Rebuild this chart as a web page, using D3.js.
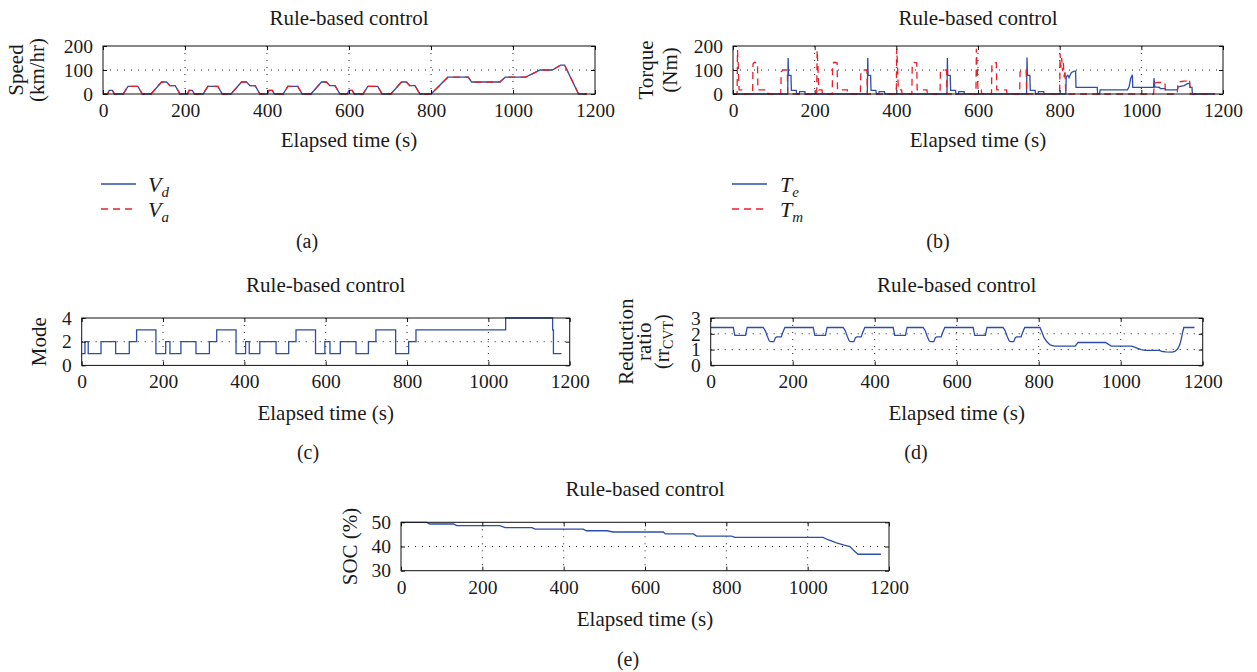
<!DOCTYPE html>
<html>
<head>
<meta charset="utf-8">
<script src="https://cdn.jsdelivr.net/npm/d3@7/dist/d3.min.js"></script>
<style>
  body { margin: 0; background: #fff; }
  svg text { font-family: "Liberation Serif", "Times New Roman", serif; fill: #1a1a1a; }
</style>
</head>
<body>
<div id="chart"></div>
<script>
// ---- data ----
const timeTicks = [0, 200, 400, 600, 800, 1000, 1200];

// (a) vehicle speed, km/hr
const speedTime = [0, 11, 15, 23, 28, 49, 61, 85, 96, 117, 143, 155, 163, 176, 188,
  195, 206, 210, 218, 223, 244, 256, 280, 291, 312, 338, 350, 358, 371, 383,
  390, 401, 405, 413, 418, 439, 451, 475, 486, 507, 533, 545, 553, 566, 578,
  585, 596, 600, 608, 613, 634, 646, 670, 681, 702, 728, 740, 748, 761, 773,
  780, 800, 841, 891, 899, 968, 981, 1031, 1066, 1096, 1116, 1126, 1160, 1180];
const speedDemand = [0, 0, 15, 15, 0, 0, 32, 32, 0, 0, 50, 50, 35, 35, 0,
  0, 0, 15, 15, 0, 0, 32, 32, 0, 0, 50, 50, 35, 35, 0,
  0, 0, 15, 15, 0, 0, 32, 32, 0, 0, 50, 50, 35, 35, 0,
  0, 0, 15, 15, 0, 0, 32, 32, 0, 0, 50, 50, 35, 35, 0,
  0, 0, 70, 70, 50, 50, 70, 70, 100, 100, 120, 120, 0, 0];
const speedActual = [0, 0, 15, 15, 0, 0, 32, 32, 0, 0, 50, 50, 35, 35, 0,
  0, 0, 15, 15, 0, 0, 32, 32, 0, 0, 50, 50, 35, 35, 0,
  0, 0, 15, 15, 0, 0, 32, 32, 0, 0, 50, 50, 35, 35, 0,
  0, 0, 15, 15, 0, 0, 32, 32, 0, 0, 50, 50, 35, 35, 0,
  0, 0, 70, 70, 50, 50, 70, 70, 100, 100, 120, 120, 0, 0];

// (b) torque, Nm  [time, value]
const engineTorque = [[0,0],[134,0],[135,150],[136,78],[142,78],[143,15],[155,15],[156,0],[162,0],[163,10],[176,10],[177,0],
  [329,0],[330,150],[331,78],[337,78],[338,15],[350,15],[351,0],[357,0],[358,10],[371,10],[372,0],
  [524,0],[525,150],[526,78],[532,78],[533,15],[545,15],[546,0],[552,0],[553,10],[566,10],[567,0],
  [719,0],[720,152],[721,78],[727,78],[728,15],[740,15],[741,0],[747,0],[748,10],[761,10],[762,0],
  [815,0],[816,72],[820,78],[823,68],[826,80],[829,90],[836,95],[839,95],[840,28],[892,28],[893,0],[898,0],[899,17],
  [966,17],[970,30],[974,65],[978,80],[979,28],[1030,28],[1031,66],[1033,30],[1045,28],[1046,22],[1058,22],[1059,17],
  [1088,17],[1090,30],[1105,35],[1112,42],[1118,45],[1119,28],[1124,28],[1125,0],[1180,0]];
const motorTorque = [[0,0],[10,0],[11,183],[12,150],[13,120],[14,60],[15,17],[23,17],[24,0],[48,0],[49,125],[52,132],[60,130],[61,17],[85,17],[86,0],[117,0],[118,92],[122,100],[133,100],[134,0],
  [205,0],[206,183],[207,150],[208,120],[209,60],[210,17],[218,17],[219,0],[243,0],[244,125],[247,132],[255,130],[256,17],[280,17],[281,0],[312,0],[313,92],[317,100],[328,100],[329,0],
  [400,0],[401,188],[402,150],[403,120],[404,60],[405,17],[413,17],[414,0],[438,0],[439,125],[442,132],[450,130],[451,17],[475,17],[476,0],[507,0],[508,92],[512,100],[523,100],[524,0],
  [595,0],[596,188],[597,150],[598,120],[599,60],[600,17],[608,17],[609,0],[633,0],[634,125],[637,132],[645,130],[646,17],[670,17],[671,0],[702,0],[703,92],[707,100],[718,100],[719,0],
  [800,0],[801,170],[803,110],[805,150],[807,95],[809,130],[811,70],[813,100],[815,0],
  [1030,0],[1032,45],[1040,48],[1058,48],[1059,0],[1088,0],[1090,50],[1110,55],[1118,62],[1120,0],[1180,0]];

// (c) operating mode (step)
const modeTime = [0, 8, 16, 47.5, 83.5, 117, 135, 182.5, 206.5, 217, 244, 281, 314, 332, 379.5,
  403, 412, 438, 478, 509, 527, 575, 598, 610.5, 636, 674.5, 705, 723.5, 772, 804, 822, 1042.5, 1158, 1160, 1180];
const modeValue = [1, 2, 1, 2, 1, 2, 3, 1, 2, 1, 2, 1, 2, 3, 1,
  2, 1, 2, 1, 2, 3, 1, 2, 1, 2, 1, 2, 3, 1, 2, 3, 4, 3, 1, 1];

// (d) CVT reduction ratio
const ratioTime = [0, 55, 59, 85, 89, 128, 133, 138, 143, 146, 154, 158, 161, 172, 176, 181,
  250, 254, 280, 284, 323, 328, 333, 338, 341, 349, 353, 356, 367, 371, 376,
  445, 449, 475, 479, 518, 523, 528, 533, 536, 544, 548, 551, 562, 566, 571,
  640, 644, 670, 674, 713, 718, 723, 728, 731, 739, 743, 746, 757, 761, 766,
  803, 808, 813, 820, 828, 838, 889, 896, 963, 977, 1027, 1040, 1050, 1059, 1094, 1102, 1110, 1126,
  1133, 1139, 1144, 1148, 1151, 1154, 1180];
const ratioValue = [2.4, 2.4, 1.9, 1.9, 2.4, 2.4, 2.2, 1.85, 1.55, 1.5, 1.5, 1.75, 1.8, 1.8, 2.1, 2.4,
  2.4, 1.9, 1.9, 2.4, 2.4, 2.2, 1.85, 1.55, 1.5, 1.5, 1.75, 1.8, 1.8, 2.1, 2.4,
  2.4, 1.9, 1.9, 2.4, 2.4, 2.2, 1.85, 1.55, 1.5, 1.5, 1.75, 1.8, 1.8, 2.1, 2.4,
  2.4, 1.9, 1.9, 2.4, 2.4, 2.2, 1.85, 1.55, 1.5, 1.5, 1.75, 1.8, 1.8, 2.1, 2.4,
  2.4, 2.1, 1.75, 1.5, 1.3, 1.22, 1.22, 1.45, 1.45, 1.22, 1.22, 1.1, 1.0, 0.95, 0.95, 0.88, 0.85, 0.84,
  0.9, 1.05, 1.3, 1.7, 2.1, 2.4, 2.4];

// (e) battery state of charge, %
const socTime = [0, 63, 71, 129, 137, 243, 256, 322, 330, 448, 456, 506, 522, 645, 650, 719, 727, 813, 821,
  1038, 1050, 1071, 1090, 1104, 1114, 1124, 1180];
const socValue = [50, 50, 49.3, 49.3, 48.6, 48.6, 47.8, 47.8, 47.2, 47.2, 46.5, 46.5, 46, 46, 45.2, 45.2, 44.3, 44.3, 43.8,
  43.8, 42.8, 41.5, 40.6, 40, 38.2, 36.8, 36.8];

// ---- drawing ----
const blue = '#2d4ea8';
const red = '#ec1f28';

const svg = d3.select('#chart').append('svg')
  .attr('width', 1257)
  .attr('height', 672)
  .style('background', '#fff');

function zip(t, v) { return t.map((d, i) => [d, v[i]]); }

function drawPanel(cfg) {
  const x = d3.scaleLinear().domain([0, 1200]).range([0, cfg.width]);
  const y = d3.scaleLinear().domain(cfg.yDomain).range([cfg.height, 0]);
  const g = svg.append('g').attr('transform', `translate(${cfg.left},${cfg.top})`);

  // dotted grid
  g.append('g').selectAll('line')
    .data(timeTicks.slice(1, -1))
    .join('line')
    .attr('x1', d => x(d)).attr('x2', d => x(d))
    .attr('y1', 0).attr('y2', cfg.height)
    .attr('stroke', '#222').attr('stroke-dasharray', '1,6');
  g.append('g').selectAll('line')
    .data(cfg.yTicks.slice(1, -1))
    .join('line')
    .attr('y1', d => y(d)).attr('y2', d => y(d))
    .attr('x1', 0).attr('x2', cfg.width)
    .attr('stroke', '#222').attr('stroke-dasharray', '1,6');

  // series
  cfg.series.forEach(s => {
    g.append('path')
      .datum(s.data)
      .attr('fill', 'none')
      .attr('stroke', s.color)
      .attr('stroke-width', 1.3)
      .attr('stroke-dasharray', s.dash || null)
      .attr('d', d3.line().x(d => x(d[0])).y(d => y(d[1])).curve(s.curve || d3.curveLinear));
  });

  // axes with inward ticks
  const fs = 19.5;
  const plain = d => String(d);
  const bottom = g.append('g').attr('transform', `translate(0,${cfg.height})`)
    .call(d3.axisBottom(x).tickValues(timeTicks).tickFormat(plain).tickSize(-4).tickPadding(9));
  const left = g.append('g')
    .call(d3.axisLeft(y).tickValues(cfg.yTicks).tickFormat(plain).tickSize(-4).tickPadding(10));
  g.append('g').call(d3.axisTop(x).tickValues(timeTicks).tickSize(-4).tickFormat(''));
  g.append('g').attr('transform', `translate(${cfg.width},0)`)
    .call(d3.axisRight(y).tickValues(cfg.yTicks).tickSize(-4).tickFormat(''));
  g.selectAll('.domain').remove();
  g.selectAll('.tick line').attr('stroke', '#111');
  [bottom, left].forEach(a => a.selectAll('text')
    .attr('font-size', fs).attr('fill', '#1a1a1a')
    .style('font-family', '"Liberation Serif", serif'));

  g.append('rect')
    .attr('width', cfg.width).attr('height', cfg.height)
    .attr('fill', 'none').attr('stroke', '#111').attr('stroke-width', 1);

  // title and x label
  svg.append('text')
    .attr('x', cfg.left + cfg.width / 2).attr('y', cfg.titleY)
    .attr('text-anchor', 'middle').attr('font-size', 21)
    .text('Rule-based control');
  svg.append('text')
    .attr('x', cfg.left + cfg.width / 2).attr('y', cfg.xLabelY)
    .attr('text-anchor', 'middle').attr('font-size', 21)
    .text('Elapsed time (s)');

  // y label lines (rotated); pieces with subscripts are laid out one text each
  const cy = cfg.top + cfg.height / 2;
  cfg.yLabel.forEach(l => {
    const lg = svg.append('g')
      .attr('transform', `translate(${l.x},${cy}) rotate(-90)`);
    const inner = lg.append('g');
    let cursor = 0;
    l.parts.forEach(p => {
      const t = inner.append('text')
        .attr('x', cursor).attr('y', p.sub ? 4 : 0)
        .attr('font-size', p.sub ? 14 : (l.size || 21))
        .text(p.text);
      cursor += t.node().getComputedTextLength();
    });
    inner.attr('transform', `translate(${-cursor / 2},0)`);
  });

  // sub-figure label
  svg.append('text')
    .attr('x', cfg.tagX).attr('y', cfg.tagY)
    .attr('text-anchor', 'middle').attr('font-size', 20)
    .text(cfg.tag);
}

function drawLegend(lx, tx, items) {
  items.forEach((it, i) => {
    const yy = 184 + i * 25;
    svg.append('line')
      .attr('x1', lx).attr('x2', lx + 35).attr('y1', yy).attr('y2', yy)
      .attr('stroke', it.color).attr('stroke-width', 1.3)
      .attr('stroke-dasharray', it.dash || null);
    const t = svg.append('text').attr('x', tx).attr('y', yy + 8)
      .attr('font-size', 22).style('font-style', 'italic');
    t.append('tspan').text(it.main);
    t.append('tspan').attr('font-size', 15).attr('dy', 5).text(it.sub);
  });
}

drawPanel({
  left: 103, top: 46, width: 492, height: 48,
  yDomain: [0, 200], yTicks: [0, 100, 200],
  titleY: 25, xLabelY: 147, tag: '(a)', tagX: 307, tagY: 248,
  yLabel: [{x: 23, parts: [{text: 'Speed'}]}, {x: 44, parts: [{text: '(km/hr)'}]}],
  series: [
    {data: zip(speedTime, speedDemand), color: blue},
    {data: zip(speedTime, speedActual), color: red, dash: '7,5'}
  ]
});

drawPanel({
  left: 733, top: 46, width: 490, height: 48,
  yDomain: [0, 200], yTicks: [0, 100, 200],
  titleY: 25, xLabelY: 147, tag: '(b)', tagX: 938, tagY: 248,
  yLabel: [{x: 653, parts: [{text: 'Torque'}]}, {x: 677, parts: [{text: '(Nm)'}]}],
  series: [
    {data: engineTorque, color: blue},
    {data: motorTorque, color: red, dash: '7,5'}
  ]
});

drawPanel({
  left: 81.7, top: 318, width: 488, height: 47.4,
  yDomain: [0, 4], yTicks: [0, 2, 4],
  titleY: 292, xLabelY: 420, tag: '(c)', tagX: 308, tagY: 459,
  yLabel: [{x: 46, parts: [{text: 'Mode'}]}],
  series: [
    {data: zip(modeTime, modeValue), color: blue, curve: d3.curveStepAfter}
  ]
});

drawPanel({
  left: 710.7, top: 318, width: 492, height: 47.4,
  yDomain: [0, 3], yTicks: [0, 1, 2, 3],
  titleY: 292, xLabelY: 420, tag: '(d)', tagX: 916, tagY: 459,
  yLabel: [
    {x: 633, parts: [{text: 'Reduction'}]},
    {x: 651, parts: [{text: 'ratio'}]},
    {x: 669, size: 20, parts: [{text: '(rr'}, {text: 'CVT', sub: true}, {text: ')'}]}
  ],
  series: [
    {data: zip(ratioTime, ratioValue), color: blue}
  ]
});

drawPanel({
  left: 401, top: 522.3, width: 488, height: 48.4,
  yDomain: [30, 50], yTicks: [30, 40, 50],
  titleY: 496, xLabelY: 626, tag: '(e)', tagX: 628, tagY: 666,
  yLabel: [{x: 357, parts: [{text: 'SOC (%)'}]}],
  series: [
    {data: zip(socTime, socValue), color: blue}
  ]
});

drawLegend(101, 148, [
  {main: 'V', sub: 'd', color: blue},
  {main: 'V', sub: 'a', color: red, dash: '7,5'}
]);
drawLegend(732, 780, [
  {main: 'T', sub: 'e', color: blue},
  {main: 'T', sub: 'm', color: red, dash: '7,5'}
]);
</script>
</body>
</html>
